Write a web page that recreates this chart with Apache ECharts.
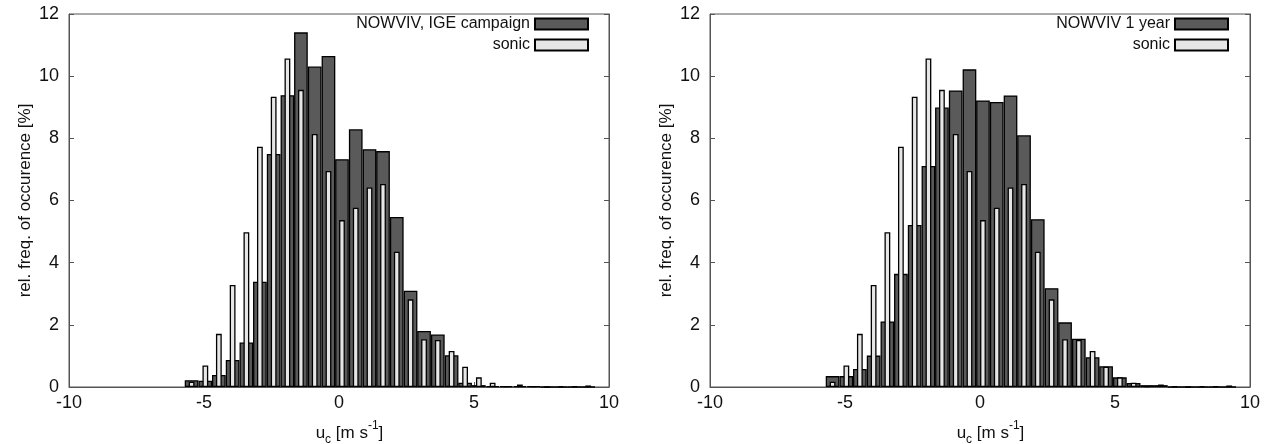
<!DOCTYPE html>
<html>
<head>
<meta charset="utf-8">
<script src="https://cdn.jsdelivr.net/npm/echarts@6/dist/echarts.min.js"></script>
<style>
  html, body { margin: 0; padding: 0; background: #fff; }
  #chart { width: 1264px; height: 444px; }
</style>
</head>
<body>
<div id="chart"></div>
<script>
// bin centres of u_c [m s-1]
const bins = [-5.46, -4.95, -4.45, -3.94, -3.43, -2.93, -2.42, -1.91, -1.41, -0.90,
  -0.39, 0.11, 0.62, 1.13, 1.63, 2.14, 2.65, 3.15, 3.66, 4.17,
  4.67, 5.18, 5.69, 6.19, 6.70, 7.21, 7.71, 8.22, 8.73, 9.23];

// rel. freq. of occurence [%]
const nowvivIge = [0.22, 0.20, 0.39, 0.87, 1.43, 3.39, 7.50, 9.39, 11.41, 10.31,
  10.65, 7.33, 8.29, 7.65, 7.59, 5.47, 3.10, 1.80, 1.69, 1.02,
  0.14, 0.06, 0.03, 0.03, 0.03, 0.02, 0, 0, 0, 0];
const nowvivYear = [0.35, 0.35, 0.58, 1.01, 2.11, 3.64, 5.21, 7.11, 8.99, 9.54,
  10.22, 9.22, 9.17, 9.38, 8.10, 5.40, 3.18, 2.08, 1.55, 0.96,
  0.67, 0.31, 0.13, 0.06, 0.06, 0, 0, 0, 0, 0];
const sonic = [0.17, 0.69, 1.71, 3.28, 4.98, 7.73, 9.34, 10.57, 9.56, 8.14,
  6.95, 5.37, 5.77, 6.42, 6.53, 4.35, 2.82, 1.54, 1.51, 1.16,
  0.65, 0.31, 0.14, 0.03, 0.08, 0.02, 0, 0.03, 0.03, 0.05];

const FONT = '"Liberation Sans", Arial, sans-serif';
const frameColor = '#555';

function pairs(vals) {
  return bins.map((b, i) => [b, vals[i]]);
}

function xAxes(grid) {
  return [{
    gridIndex: grid,
    type: 'value',
    min: -10, max: 10, interval: 5,
    axisLine: { show: true, onZero: false, lineStyle: { color: frameColor, width: 1 } },
    axisTick: { show: true, inside: true, length: 5, lineStyle: { color: frameColor } },
    axisLabel: { fontSize: 18, color: '#111', margin: 7, fontFamily: FONT },
    splitLine: { show: false },
    name: '{i|u}{s|c}{i| [m s}{p|-1}{i|]}',
    nameLocation: 'middle',
    nameGap: 33,
    nameTextStyle: {
      fontFamily: FONT, color: '#111', fontSize: 17,
      padding: [0, 0, 0, 21],
      rich: {
        i: { fontSize: 17, color: '#111', fontFamily: FONT, lineHeight: 26, verticalAlign: 'middle' },
        s: { fontSize: 12, color: '#111', fontFamily: FONT, lineHeight: 12, verticalAlign: 'bottom' },
        p: { fontSize: 12, color: '#111', fontFamily: FONT, lineHeight: 12, verticalAlign: 'top' }
      }
    }
  }, {
    gridIndex: grid,
    type: 'value',
    min: -10, max: 10,
    show: false
  }];
}

function yAxes(grid) {
  return [{
    gridIndex: grid,
    type: 'value',
    min: 0, max: 12, interval: 2,
    axisLine: { show: true, onZero: false, lineStyle: { color: frameColor, width: 1 } },
    axisTick: { show: true, inside: true, length: 5, lineStyle: { color: frameColor } },
    axisLabel: { fontSize: 18, color: '#111', margin: 10, fontFamily: FONT },
    splitLine: { show: false },
    name: 'rel. freq. of occurence [%]',
    nameLocation: 'middle',
    nameGap: 35,
    nameTextStyle: { fontSize: 17, color: '#111', fontFamily: FONT }
  }, {
    gridIndex: grid,
    type: 'value',
    position: 'right',
    min: 0, max: 12, interval: 2,
    axisLine: { show: true, onZero: false, lineStyle: { color: frameColor, width: 1 } },
    axisTick: { show: true, inside: true, length: 5, lineStyle: { color: frameColor } },
    axisLabel: { show: false },
    splitLine: { show: false }
  }];
}

const darkStyle = { color: '#5a5a5a', borderColor: '#000', borderWidth: 1.3 };
const lightStyle = { color: '#e6e6e6', borderColor: '#000', borderWidth: 1.3 };

function legendFor(names, right) {
  return {
    data: names,
    orient: 'vertical',
    right: right,
    top: 11,
    align: 'right',
    icon: 'rect',
    itemWidth: 53,
    itemHeight: 11,
    itemGap: 5,
    selectedMode: false,
    textStyle: { fontSize: 16, color: '#111', fontFamily: FONT }
  };
}

const chart = echarts.init(document.getElementById('chart'), null, { renderer: 'canvas' });

chart.setOption({
  animation: false,
  backgroundColor: '#fff',
  textStyle: { fontFamily: FONT },
  grid: [
    { left: 69, right: 655, top: 14, bottom: 57, show: true, borderColor: frameColor, borderWidth: 1, outerBoundsMode: 'none' },
    { left: 710, right: 14, top: 14, bottom: 57, show: true, borderColor: frameColor, borderWidth: 1, outerBoundsMode: 'none' }
  ],
  xAxis: [...xAxes(0), ...xAxes(1)],
  yAxis: [...yAxes(0), ...yAxes(1)],
  legend: [
    legendFor(['NOWVIV, IGE campaign', 'sonic'], 676),
    legendFor(['NOWVIV 1 year', 'sonic'], 36)
  ].map((l, i) => Object.assign(l, { right: i === 0 ? 670 : 30 })),
  series: [
    { type: 'bar', name: 'NOWVIV, IGE campaign', xAxisIndex: 0, yAxisIndex: 0,
      data: pairs(nowvivIge), barWidth: 13.7, itemStyle: darkStyle, z: 2 },
    { type: 'bar', name: 'sonic', xAxisIndex: 1, yAxisIndex: 0,
      data: pairs(sonic), barWidth: 5.8, itemStyle: lightStyle, z: 3 },
    { type: 'bar', name: 'NOWVIV 1 year', xAxisIndex: 2, yAxisIndex: 2,
      data: pairs(nowvivYear), barWidth: 13.7, itemStyle: darkStyle, z: 2 },
    { type: 'bar', name: 'sonic', xAxisIndex: 3, yAxisIndex: 2,
      data: pairs(sonic), barWidth: 5.8, itemStyle: lightStyle, z: 3 }
  ]
});
</script>
</body>
</html>
